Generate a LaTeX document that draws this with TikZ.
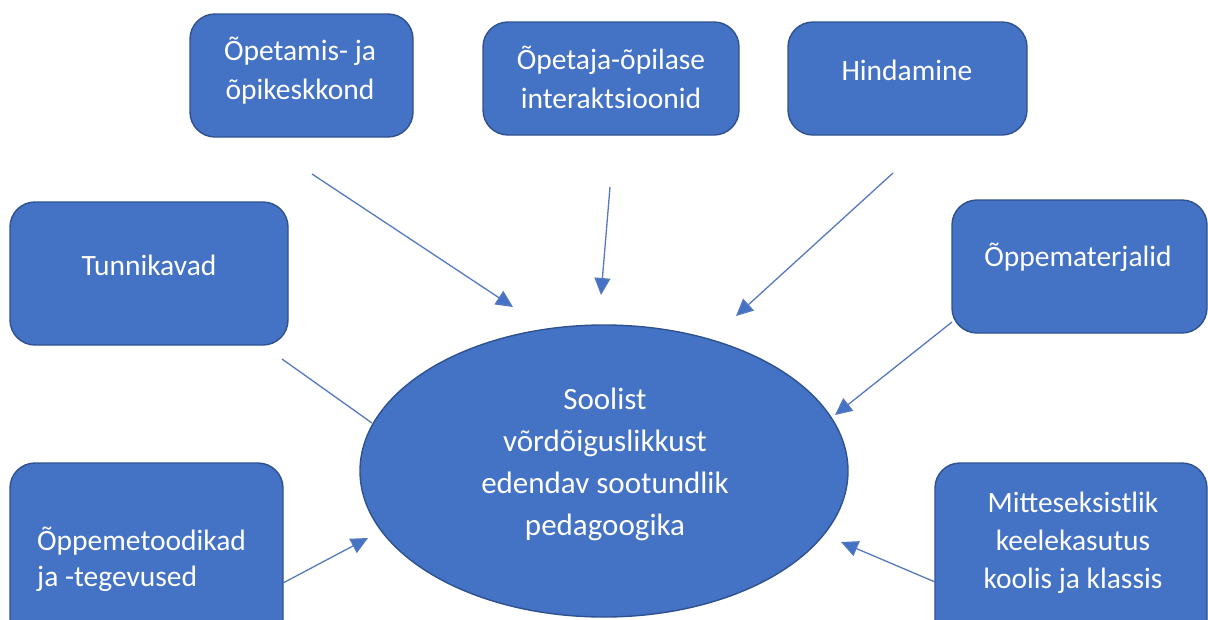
\documentclass[tikz,border=0pt]{standalone}
\usepackage{fontspec}
\setmainfont{Carlito}
\usetikzlibrary{arrows.meta,shapes.geometric}
\definecolor{boxfill}{HTML}{4472C4}
\definecolor{boxline}{HTML}{2F528F}
\definecolor{arrline}{HTML}{5479BE}
\tikzset{
  box/.style={draw=boxline, line width=1.4pt, fill=boxfill, rounded corners=25pt, inner sep=0pt},
  oval/.style={ellipse, draw=boxline, line width=1.4pt, fill=boxfill, inner sep=0pt},
  txt/.style={text=white, inner sep=0pt, align=center, font=\fontsize{29.5}{39}\selectfont},
  bigtxt/.style={text=white, inner sep=0pt, align=center, font=\fontsize{31}{42}\selectfont},
  arr/.style={draw=arrline, line width=1.3pt, -{Triangle[length=17pt,width=16pt,fill=boxfill]}},
  plainline/.style={draw=arrline, line width=1.3pt}
}
\begin{document}
\begin{tikzpicture}[x=1pt,y=-1pt]
\useasboundingbox (0,0) rectangle (1208,619);
% boxes
\node[box, minimum width=223pt, minimum height=123pt] (b1) at (301.5,75.5) {};
\node[box, minimum width=256pt, minimum height=113pt] (b2) at (611,78.5) {};
\node[box, minimum width=239pt, minimum height=113pt] (b3) at (907.5,78.5) {};
\node[box, minimum width=278pt, minimum height=143pt] (b4) at (149,273.5) {};
\node[box, minimum width=255pt, minimum height=133pt] (b5) at (1079.5,266.5) {};
\node[box, minimum width=273pt, minimum height=182pt] (b6) at (146.5,554) {};
\node[box, minimum width=272pt, minimum height=182pt] (b7) at (1071,554) {};
\node[oval, minimum width=488pt, minimum height=292pt] (c) at (604,471) {};
% texts
\node[txt] (t1) at (300,71) {Õpetamis- ja\\õpikeskkond};
\node[txt] (t2) at (611,77) {Õpetaja-õpilase\\interaktsioonid};
\node[txt] (t3) at (907,70) {Hindamine};
\node[txt] (t4) at (149,265) {Tunnikavad};
\node[txt] (t5) at (1078,257) {Õppematerjalid};
\node[txt, align=left, anchor=west, font=\fontsize{29.5}{36}\selectfont] (t6) at (37,559) {Õppemetoodikad\\ja -tegevused};
\node[txt, font=\fontsize{29.5}{38}\selectfont] (t7) at (1073,543) {Mitteseksistlik\\keelekasutus\\koolis ja klassis};
\node[bigtxt] (tc) at (605,464) {Soolist\\võrdõiguslikkust\\edendav sootundlik\\pedagoogika};
% connector end points
\coordinate (a1s) at (312,174); \coordinate (a1e) at (513,307);
\coordinate (a2s) at (610,187); \coordinate (a2e) at (601,295);
\coordinate (a3s) at (893,173); \coordinate (a3e) at (736,316);
\coordinate (a4s) at (282,359); \coordinate (a4e) at (372,423);
\coordinate (a5s) at (952,322); \coordinate (a5e) at (835,415);
\coordinate (a6s) at (283,583); \coordinate (a6e) at (368,538);
\coordinate (a7s) at (935,582); \coordinate (a7e) at (841,542);
% connectors
\draw[arr] (a1s) -- (a1e);
\draw[arr] (a2s) -- (a2e);
\draw[arr] (a3s) -- (a3e);
\draw[plainline] (a4s) -- (a4e);
\draw[arr] (a5s) -- (a5e);
\draw[arr] (a6s) -- (a6e);
\draw[arr] (a7s) -- (a7e);
\end{tikzpicture}
\end{document}
